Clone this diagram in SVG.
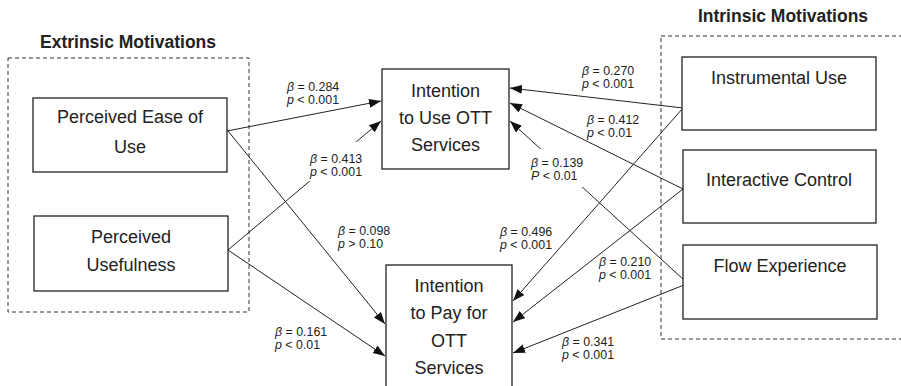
<svg xmlns="http://www.w3.org/2000/svg" width="901" height="386" viewBox="0 0 901 386">
<style>
.node{fill:#fff;stroke:#222;stroke-width:1.3}
.grp{fill:none;stroke:#333;stroke-width:1;stroke-dasharray:4,3}
.t{font-family:"Liberation Sans",Arial,sans-serif;font-size:18px;fill:#222;text-anchor:middle}
.title{font-family:"Liberation Sans",Arial,sans-serif;font-size:17.5px;font-weight:bold;fill:#222;text-anchor:middle}
.lbl{font-family:"Liberation Sans",Arial,sans-serif;font-size:12.4px;fill:#222}
.i{font-style:italic}
.c{fill:none;stroke:#222;stroke-width:1;marker-end:url(#ah)}
</style>
<defs>
<marker id="ah" markerUnits="userSpaceOnUse" markerWidth="13" markerHeight="10" refX="12" refY="4.5" orient="auto">
<path d="M0,0 L12,4.5 L0,9 z" fill="#111"/>
</marker>
</defs>
<rect width="901" height="386" fill="#fff"/>
<g id="extrinsic-group">
<rect class="grp" x="8" y="58" width="241" height="254"/>
<text class="title" x="128" y="48">Extrinsic Motivations</text>
</g>
<g id="intrinsic-group">
<rect class="grp" x="661" y="36" width="260" height="303"/>
<text class="title" x="783" y="22">Intrinsic Motivations</text>
</g>
<g id="connectors">
<line class="c" x1="227" y1="131" x2="381" y2="101"/>
<line class="c" x1="228" y1="250" x2="381" y2="121"/>
<line class="c" x1="228" y1="131" x2="385" y2="324"/>
<line class="c" x1="228" y1="250" x2="385" y2="356"/>
<line class="c" x1="683" y1="108" x2="510" y2="88"/>
<line class="c" x1="683" y1="189" x2="510" y2="103"/>
<line class="c" x1="684" y1="280" x2="510" y2="121"/>
<line class="c" x1="683" y1="108" x2="513" y2="301"/>
<line class="c" x1="683" y1="189" x2="513" y2="322"/>
<line class="c" x1="684" y1="285" x2="513" y2="353"/>
</g>
<g id="labels">
<text class="lbl" x="287" y="90.5"><tspan class="i">β</tspan> = 0.284</text>
<text class="lbl" x="287" y="104"><tspan class="i">p</tspan> &lt; 0.001</text>
<rect x="306" y="142" width="58" height="39" fill="#fff"/>
<text class="lbl" x="310" y="162.5"><tspan class="i">β</tspan> = 0.413</text>
<text class="lbl" x="310" y="176"><tspan class="i">p</tspan> &lt; 0.001</text>
<text class="lbl" x="338" y="234.5"><tspan class="i">β</tspan> = 0.098</text>
<text class="lbl" x="338" y="248"><tspan class="i">p</tspan> &gt; 0.10</text>
<text class="lbl" x="275" y="335.5"><tspan class="i">β</tspan> = 0.161</text>
<text class="lbl" x="275" y="349"><tspan class="i">p</tspan> &lt; 0.01</text>
<text class="lbl" x="582" y="74.5"><tspan class="i">β</tspan> = 0.270</text>
<text class="lbl" x="582" y="88"><tspan class="i">p</tspan> &lt; 0.001</text>
<text class="lbl" x="587" y="123.5"><tspan class="i">β</tspan> = 0.412</text>
<text class="lbl" x="587" y="137"><tspan class="i">p</tspan> &lt; 0.01</text>
<rect x="530" y="149" width="60" height="38" fill="#fff"/>
<text class="lbl" x="531" y="166.5"><tspan class="i">β</tspan> = 0.139</text>
<text class="lbl" x="531" y="180"><tspan class="i">P</tspan> &lt; 0.01</text>
<text class="lbl" x="500" y="235.5"><tspan class="i">β</tspan> = 0.496</text>
<text class="lbl" x="500" y="249"><tspan class="i">p</tspan> &lt; 0.001</text>
<text class="lbl" x="599" y="265.5"><tspan class="i">β</tspan> = 0.210</text>
<text class="lbl" x="599" y="279"><tspan class="i">p</tspan> &lt; 0.001</text>
<text class="lbl" x="562" y="345.5"><tspan class="i">β</tspan> = 0.341</text>
<text class="lbl" x="562" y="359"><tspan class="i">p</tspan> &lt; 0.001</text>
</g>
<g id="peou">
<rect class="node" x="33" y="98" width="194" height="74"/>
<text class="t" x="130" y="123">Perceived Ease of</text>
<text class="t" x="130" y="153">Use</text>
</g>
<g id="pu">
<rect class="node" x="34" y="216" width="194" height="75"/>
<text class="t" x="131" y="243">Perceived</text>
<text class="t" x="131" y="271">Usefulness</text>
</g>
<g id="intention-use">
<rect class="node" x="382" y="69" width="127" height="100"/>
<text class="t" x="445.5" y="97">Intention</text>
<text class="t" x="445.5" y="124">to Use OTT</text>
<text class="t" x="445.5" y="151">Services</text>
</g>
<g id="intention-pay">
<rect class="node" x="386" y="265" width="126" height="130"/>
<text class="t" x="449" y="292">Intention</text>
<text class="t" x="449" y="319">to Pay for</text>
<text class="t" x="449" y="347">OTT</text>
<text class="t" x="449" y="374">Services</text>
</g>
<g id="instrumental-use">
<rect class="node" x="682" y="57" width="194" height="73"/>
<text class="t" x="779" y="84">Instrumental Use</text>
</g>
<g id="interactive-control">
<rect class="node" x="683" y="150" width="193" height="73"/>
<text class="t" x="779" y="186">Interactive Control</text>
</g>
<g id="flow-experience">
<rect class="node" x="683" y="245" width="194" height="74"/>
<text class="t" x="780" y="272">Flow Experience</text>
</g>
</svg>
